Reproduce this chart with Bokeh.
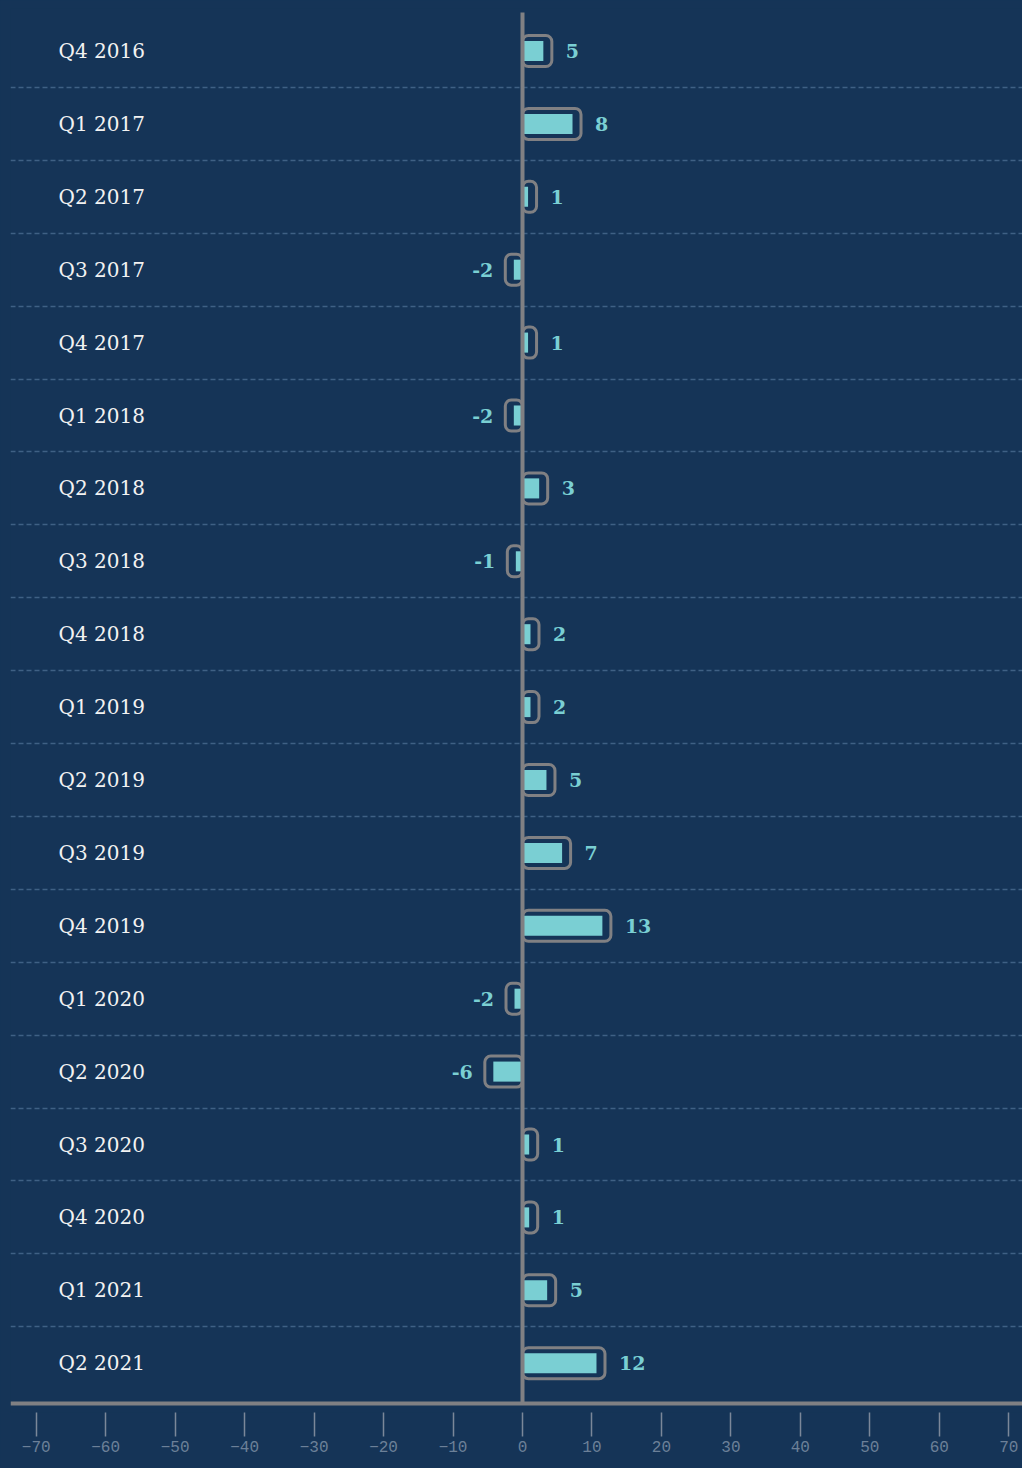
import numpy as np
from bokeh.plotting import figure
from bokeh.models import ColumnDataSource, Range1d, FixedTicker, Span, Grid
from bokeh.embed import file_html
from bokeh.resources import INLINE
from bokeh.core.properties import value

# ---------------- data ----------------
quarters = ["Q4 2016", "Q1 2017", "Q2 2017", "Q3 2017", "Q4 2017", "Q1 2018",
            "Q2 2018", "Q3 2018", "Q4 2018", "Q1 2019", "Q2 2019", "Q3 2019",
            "Q4 2019", "Q1 2020", "Q2 2020", "Q3 2020", "Q4 2020", "Q1 2021",
            "Q2 2021"]
shown_values = [5, 8, 1, -2, 1, -2, 3, -1, 2, 2, 5, 7, 13, -2, -6, 1, 1, 5, 12]
bar_values = [3.0, 7.2, 0.8, -1.25, 0.8, -1.25, 2.4, -0.96, 1.15, 1.15, 3.45,
              5.7, 11.5, -1.15, -4.2, 0.96, 0.96, 3.55, 10.65]
x_ticks = list(range(-70, 71, 10))

# ---------------- styling / layout ----------------
BG = "#153457"
GRAY = "#808083"
TEAL = "#7acfd3"
PX_PER_UNIT = 6.947
ROW_PX = 72.9
LEFT = 10
TOP = 8
FRAME_W = 1012
FRAME_H = 1404
zero_px = 512.0
x_start = -zero_px / PX_PER_UNIT
x_end = x_start + FRAME_W / PX_PER_UNIT
first_row_px = 50.5 - TOP
y_top = -first_row_px / ROW_PX
y_bottom = y_top + FRAME_H / ROW_PX
baseline_y = (1403 - TOP - first_row_px) / ROW_PX
zero_top = (12 - TOP - first_row_px) / ROW_PX

n = len(quarters)
ys = list(range(n))
pad = 8.5 / PX_PER_UNIT
outline_end = [v + (pad if v > 0 else -pad) for v in bar_values]

src = ColumnDataSource(dict(y=ys, q=quarters, v=bar_values, o=outline_end,
                            lab=[str(s) for s in shown_values]))
pos_idx = [i for i, v in enumerate(bar_values) if v > 0]
neg_idx = [i for i, v in enumerate(bar_values) if v < 0]
pos_src = ColumnDataSource(dict(y=[ys[i] for i in pos_idx],
                                o=[outline_end[i] for i in pos_idx],
                                lab=[str(shown_values[i]) for i in pos_idx]))
neg_src = ColumnDataSource(dict(y=[ys[i] for i in neg_idx],
                                o=[outline_end[i] for i in neg_idx],
                                lab=[str(shown_values[i]) for i in neg_idx]))

p = figure(frame_width=FRAME_W, frame_height=FRAME_H,
           x_range=Range1d(x_start, x_end), y_range=Range1d(y_bottom, y_top),
           output_backend="svg", toolbar_location=None, y_axis_location=None,
           min_border=0, min_border_left=LEFT, min_border_right=0, min_border_top=TOP,
           min_border_bottom=54,
           background_fill_color=BG, border_fill_color=BG, outline_line_color=None)

p.grid.visible = False
p.add_layout(Grid(dimension=1, ticker=FixedTicker(ticks=[i + 0.5 for i in range(n - 1)]),
                  grid_line_color="#3f6084", grid_line_dash="5 3", grid_line_width=1.5))

# outlines
p.hbar(y="y", left=0, right="o", height=0.425, source=src, fill_color=None,
       line_color=GRAY, line_width=3, border_radius=6)
# inner bars
p.hbar(y="y", left=0, right="v", height=0.275, source=src, fill_color=TEAL,
       line_color=None)

# zero line and baseline
p.segment(x0=[0], y0=[zero_top], x1=[0], y1=[baseline_y], line_color=GRAY, line_width=4)
p.add_layout(Span(location=baseline_y, dimension="width", line_color=GRAY, line_width=4))

# value labels
p.text(x="o", y="y", text="lab", source=pos_src, x_offset=14, text_align="left",
       text_baseline="middle", text_color=TEAL, text_font=value("DejaVu Serif"),
       text_font_size="19px", text_font_style="bold")
p.text(x="o", y="y", text="lab", source=neg_src, x_offset=-12, text_align="right",
       text_baseline="middle", text_color=TEAL, text_font=value("DejaVu Serif"),
       text_font_size="19px", text_font_style="bold")

# category labels
label_x = x_start + 48 / PX_PER_UNIT
p.text(x=label_x, y="y", text="q", source=src, text_align="left",
       text_baseline="middle", text_color="#f2f2f2", text_font=value("DejaVu Serif"),
       text_font_size="20px")

# x axis
ax = p.xaxis[0]
ax.ticker = FixedTicker(ticks=x_ticks)
ax.axis_line_color = None
ax.major_tick_in = 0
ax.major_tick_out = 24
ax.minor_tick_line_color = None
ax.major_tick_line_color = "#7b8799"
ax.major_tick_line_width = 1.5
ax.major_label_text_font = "Liberation Mono"
ax.major_label_text_font_size = "16px"
ax.major_label_text_color = "#6c8098"
ax.major_label_standoff = 4

html = file_html(p, INLINE)
html = html.replace("<head>", "<head><style>html,body{background:#153457;}</style>", 1)
open("out.html", "w").write(html)
